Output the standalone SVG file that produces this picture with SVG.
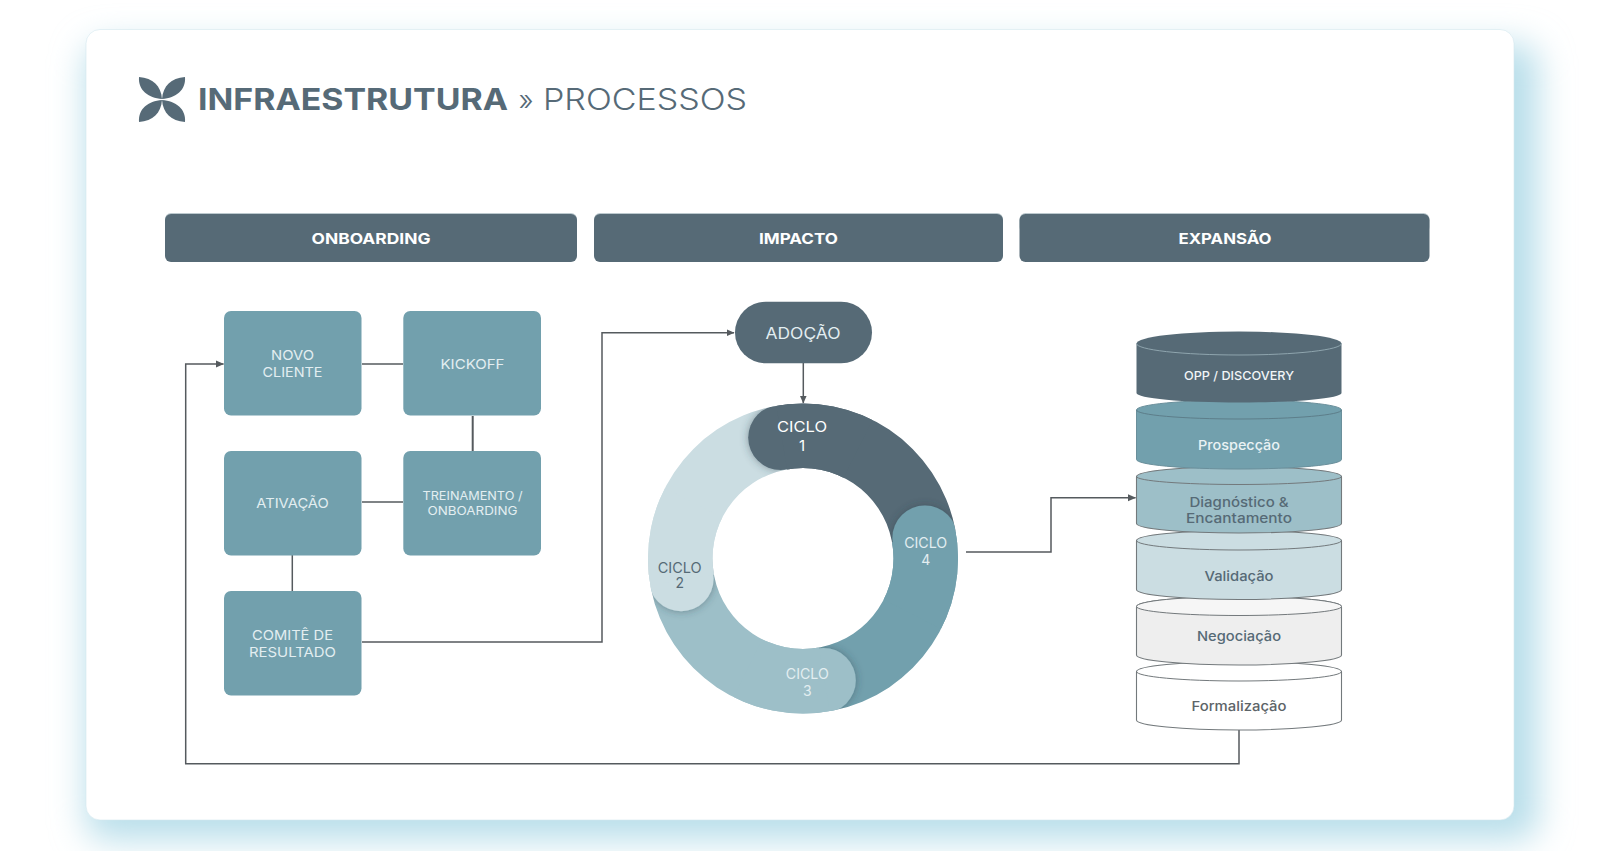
<svg xmlns="http://www.w3.org/2000/svg" width="1600" height="851" viewBox="0 0 1600 851">
<style>
text{font-family:Inter,"Liberation Sans",sans-serif;text-anchor:middle}
.lbl{font-size:13.5px;fill:#e3eef1;font-weight:400}
.hd{font-size:15px;fill:#fff;font-weight:700}
.hb{fill:#566a76}
.ht{fill:#bcc9ce}
.box{fill:#72a0ad}
.conn{fill:none;stroke:#555a5e;stroke-width:1.5}
.cyl{stroke:#73797c;stroke-width:1.1}
.cap{fill:none;stroke:#73797c;stroke-width:1}
.st{font-size:13.5px;font-weight:500}
</style>
<defs>
<filter id="sh" x="-10%" y="-10%" width="120%" height="120%"><feGaussianBlur stdDeviation="17"/></filter>
<filter id="hs" x="-40%" y="-40%" width="180%" height="180%"><feDropShadow dx="0" dy="0" stdDeviation="4" flood-color="#2d3f48" flood-opacity=".45"/></filter>
<marker id="ah" viewBox="0 0 8 8" refX="7.5" refY="4" markerWidth="8" markerHeight="8" markerUnits="userSpaceOnUse" orient="auto"><path d="M0,0.5L8,4L0,7.5Z" fill="#555a5e"/></marker>
<clipPath id="ringclip"><path clip-rule="evenodd" d="M648,558.5a155,155 0 1,0 310,0a155,155 0 1,0 -310,0ZM712.5,558.5a90.5,90.5 0 1,0 181,0a90.5,90.5 0 1,0 -181,0Z"/></clipPath>
</defs>
<rect width="1600" height="851" fill="#fff"/>
<g id="card">
<rect x="86" y="44" width="1452" height="796" rx="20" fill="#b8deea" filter="url(#sh)"/>
<rect x="86" y="29.5" width="1428" height="790.5" rx="14" fill="#fff" stroke="#d3e8ef" stroke-width=".6"/>
</g>
<g id="logo" fill="#566a77">
<path d="M162,99C161,86 153,78 139,77C138,90 148,98 162,99Z"/>
<path d="M162,99C163,86 171,78 185,77C186,90 176,98 162,99Z"/>
<path d="M162,100C161,113 153,121 139,122C138,109 148,101 162,100Z"/>
<path d="M162,100C163,113 171,121 185,122C186,109 176,101 162,100Z"/>
</g>
<g id="title">
<text x="353" y="110" font-size="30" font-weight="700" fill="#566a77" textLength="310" lengthAdjust="spacingAndGlyphs">INFRAESTRUTURA</text>
<text x="526" y="110" font-size="28" font-weight="300" fill="#566a77">»</text>
<text x="645" y="110" font-size="30" font-weight="300" fill="#566a77" textLength="204" lengthAdjust="spacingAndGlyphs">PROCESSOS</text>
</g>
<g id="hdr-onboarding"><rect class="ht" x="165" y="213" width="412" height="20" rx="6"/><rect class="hb" x="165" y="214" width="412" height="48" rx="6"/><text class="hd" x="371" y="244" textLength="119" lengthAdjust="spacingAndGlyphs">ONBOARDING</text></g>
<g id="hdr-impacto"><rect class="ht" x="594" y="213" width="409" height="20" rx="6"/><rect class="hb" x="594" y="214" width="409" height="48" rx="6"/><text class="hd" x="798.5" y="244" textLength="79" lengthAdjust="spacingAndGlyphs">IMPACTO</text></g>
<g id="hdr-expansao"><rect class="ht" x="1019.5" y="213" width="410" height="20" rx="6"/><rect class="hb" x="1019.5" y="214" width="410" height="48" rx="6"/><text class="hd" x="1225" y="244" textLength="93" lengthAdjust="spacingAndGlyphs">EXPANSÃO</text></g>

<g id="connectors">
<path class="conn" d="M362,364H403"/>
<path class="conn" d="M472.7,416V451" style="stroke-width:2"/>
<path class="conn" d="M403,502H362"/>
<path class="conn" d="M292.3,555V591"/>
<path class="conn" d="M362,642H602V332.7H734" marker-end="url(#ah)"/>
<path class="conn" d="M803.3,363V403" marker-end="url(#ah)"/>
<path class="conn" d="M966,552H1051V497.7H1135.5" marker-end="url(#ah)"/>
<path class="conn" d="M1239,730V763.7H185.7V364H223.5" marker-end="url(#ah)"/>
</g>

<g id="novo-cliente"><rect class="box" x="224" y="311" width="137.5" height="104.5" rx="7"/><text class="lbl" x="292.5" y="360.3" textLength="43" lengthAdjust="spacingAndGlyphs">NOVO</text><text class="lbl" x="292.5" y="377" textLength="60" lengthAdjust="spacingAndGlyphs">CLIENTE</text></g>
<g id="kickoff"><rect class="box" x="403.3" y="311" width="137.7" height="104.5" rx="7"/><text class="lbl" x="472.5" y="368.7" textLength="64" lengthAdjust="spacingAndGlyphs">KICKOFF</text></g>
<g id="ativacao"><rect class="box" x="224" y="451" width="137.5" height="104.5" rx="7"/><text class="lbl" x="292.5" y="508" textLength="72.5" lengthAdjust="spacingAndGlyphs">ATIVAÇÃO</text></g>
<g id="treinamento"><rect class="box" x="403.3" y="451" width="137.7" height="104.5" rx="7"/><text class="lbl" x="472.5" y="500.3" style="font-size:12px" textLength="100" lengthAdjust="spacingAndGlyphs">TREINAMENTO /</text><text class="lbl" x="472.5" y="515" style="font-size:12px" textLength="90" lengthAdjust="spacingAndGlyphs">ONBOARDING</text></g>
<g id="comite"><rect class="box" x="224" y="591" width="137.5" height="104.5" rx="7"/><text class="lbl" x="292.5" y="640" textLength="81" lengthAdjust="spacingAndGlyphs">COMITÊ DE</text><text class="lbl" x="292.5" y="656.7" textLength="87" lengthAdjust="spacingAndGlyphs">RESULTADO</text></g>

<g id="adocao"><rect x="735" y="301.7" width="137" height="61.6" rx="30.8" fill="#566a76"/><text x="803" y="339" font-size="15.5" fill="#e3eef1" textLength="75" lengthAdjust="spacingAndGlyphs">ADOÇÃO</text></g>

<g id="ring">
<g clip-path="url(#ringclip)" fill="none" stroke-width="70">
<path stroke="#566a76" d="M781.7,437.6A122.75,122.75 0 0 1 923.9,537.2"/>
<path stroke="#72a0ad" d="M923.9,537.2A122.75,122.75 0 0 1 824.3,679.4"/>
<path stroke="#9dbfc8" d="M824.3,679.4A122.75,122.75 0 0 1 682.1,579.8"/>
<path stroke="#cbdde2" d="M682.1,579.8A122.75,122.75 0 0 1 781.7,437.6"/>
<circle cx="780.7" cy="437.6" r="32.5" fill="#566a76" stroke="none" filter="url(#hs)"/>
<circle cx="924.9" cy="538" r="32.5" fill="#72a0ad" stroke="none" filter="url(#hs)"/>
<circle cx="823.3" cy="680.4" r="32.5" fill="#9dbfc8" stroke="none" filter="url(#hs)"/>
<circle cx="681.1" cy="578.8" r="32.5" fill="#cbdde2" stroke="none" filter="url(#hs)"/>
<path stroke="#566a76" d="M781.7,437.6A122.75,122.75 0 0 1 858,449"/>
<path stroke="#72a0ad" d="M923.9,537.2A122.75,122.75 0 0 1 912,614"/>
<path stroke="#9dbfc8" d="M824.3,679.4A122.75,122.75 0 0 1 748,668"/>
<path stroke="#cbdde2" d="M682.1,579.8A122.75,122.75 0 0 1 694,503"/>
</g>
<text x="802" y="432" font-size="15" fill="#fff" textLength="50" lengthAdjust="spacingAndGlyphs">CICLO</text><text x="802" y="451" font-size="15" fill="#fff">1</text>
<text x="925.7" y="548.3" font-size="14" fill="#e3eef1" textLength="43" lengthAdjust="spacingAndGlyphs">CICLO</text><text x="925.7" y="565" font-size="14" fill="#e3eef1">4</text>
<text x="679.7" y="572.7" font-size="14" fill="#566a76" textLength="44" lengthAdjust="spacingAndGlyphs">CICLO</text><text x="679.7" y="588" font-size="14" fill="#566a76">2</text>
<text x="807.3" y="679" font-size="14" fill="#e3eef1" textLength="43" lengthAdjust="spacingAndGlyphs">CICLO</text><text x="807.3" y="695.7" font-size="14" fill="#e3eef1">3</text>
</g>

<g id="formalizacao"><path class="cyl" fill="#fff" d="M1136.5,671.5A102.5,10 0 0 1 1341.5,671.5V720A102.5,10 0 0 1 1136.5,720Z"/><path class="cap" d="M1136.5,671.5A102.5,9.5 0 0 0 1341.5,671.5"/><text class="st" x="1239" y="711" fill="#5d6468" textLength="95" lengthAdjust="spacingAndGlyphs">Formalização</text></g>
<g id="negociacao"><path class="cyl" fill="#eeeeee" d="M1136.5,606.5A102.5,10 0 0 1 1341.5,606.5V655A102.5,10 0 0 1 1136.5,655Z"/><path d="M1136.5,606.5A102.5,9 0 0 0 1341.5,606.5A102.5,10 0 0 0 1136.5,606.5Z" fill="#f6f6f6" stroke="#73797c"/><text class="st" x="1239" y="641" fill="#566a76" textLength="84" lengthAdjust="spacingAndGlyphs">Negociação</text></g>
<g id="validacao"><path class="cyl" fill="#cbdde2" d="M1136.5,540.5A102.5,10 0 0 1 1341.5,540.5V589.5A102.5,10 0 0 1 1136.5,589.5Z"/><path class="cap" d="M1136.5,540.5A102.5,9.5 0 0 0 1341.5,540.5"/><text class="st" x="1239" y="581" fill="#566a76" textLength="69" lengthAdjust="spacingAndGlyphs">Validação</text></g>
<g id="diagnostico"><path class="cyl" fill="#9dbfc8" d="M1136.5,476.5A102.5,10 0 0 1 1341.5,476.5V523.5A102.5,9.5 0 0 1 1136.5,523.5Z"/><path class="cap" d="M1136.5,476.5A102.5,8 0 0 0 1341.5,476.5"/><text class="st" x="1239" y="507" fill="#566a76" textLength="99" lengthAdjust="spacingAndGlyphs">Diagnóstico &amp;</text><text class="st" x="1239" y="523" fill="#566a76" textLength="106" lengthAdjust="spacingAndGlyphs">Encantamento</text></g>
<g id="prospeccao"><path fill="#72a0ad" stroke="#6a8f9b" d="M1136.5,410A102.5,10 0 0 1 1341.5,410V459.5A102.5,9.5 0 0 1 1136.5,459.5Z"/><path d="M1136.5,410A102.5,9 0 0 0 1341.5,410" fill="none" stroke="#5d7e8a"/><text class="st" x="1239" y="450" fill="#e9f2f4" textLength="82" lengthAdjust="spacingAndGlyphs">Prospecção</text></g>
<g id="opp"><path fill="#566a76" d="M1136.5,343.5A102.5,12 0 0 1 1341.5,343.5V393A102.5,9.5 0 0 1 1136.5,393Z"/><path d="M1136.5,343.5A102.5,11.5 0 0 0 1341.5,343.5" fill="none" stroke="#8fa5ae"/><text x="1239" y="380" font-size="12" font-weight="500" fill="#f1f5f6" textLength="110" lengthAdjust="spacingAndGlyphs">OPP / DISCOVERY</text></g>
</svg>
